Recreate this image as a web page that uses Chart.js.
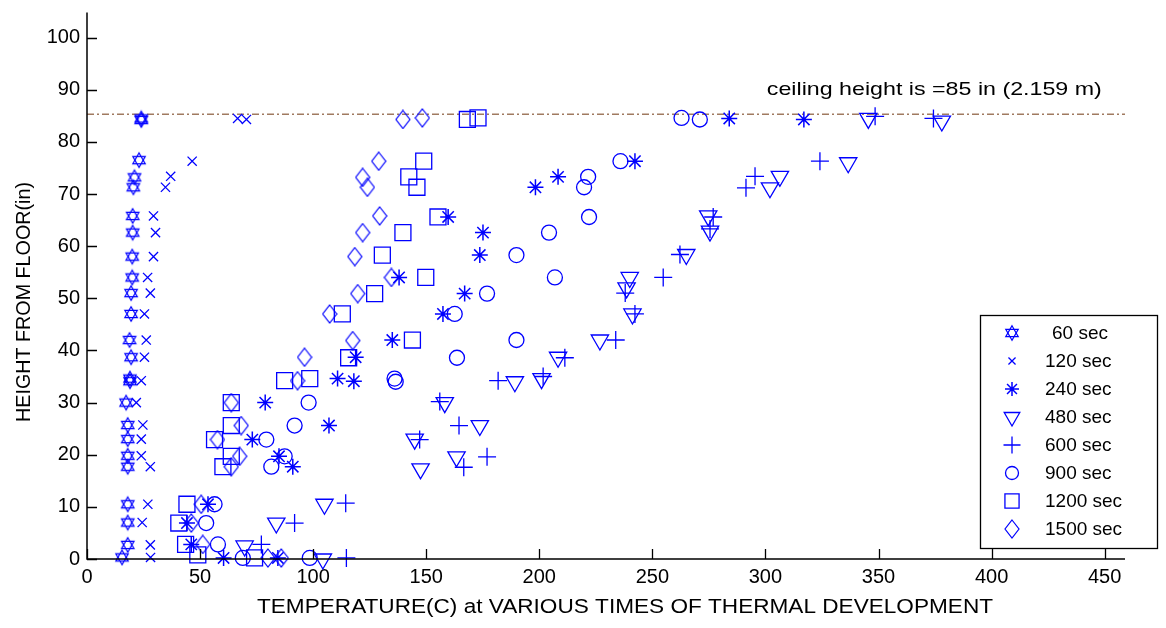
<!DOCTYPE html>
<html><head><meta charset="utf-8">
<script src="https://cdn.jsdelivr.net/npm/chart.js@4/dist/chart.umd.min.js"></script>
<style>html,body{margin:0;padding:0;background:#fff}</style>
</head><body>
<canvas id="c" width="1166" height="628"></canvas>
<script>
// ---- data ----
const seriesLabels = ['60 sec','120 sec','240 sec','480 sec','600 sec','900 sec','1200 sec','1500 sec'];
const xTickValues = [0,50,100,150,200,250,300,350,400,450];
const yTickValues = [0,10,20,30,40,50,60,70,80,90,100];
const ceilingHeight = 85.3;
const ceilingText = 'ceiling height is =85 in (2.159 m)';
const xTitle = 'TEMPERATURE(C) at VARIOUS TIMES OF THERMAL DEVELOPMENT';
const yTitle = 'HEIGHT FROM FLOOR(in)';

const s60 = [[24,84.5],[24,84.2],[23,76.5],[21,73.2],[20.5,71.3],[20.2,65.8],[20.2,62.6],[20,58],[20,54],[19.5,51],[19.5,47],[18.8,42],[19.5,38.7],[19,34.6],[19,34.1],[17.3,30],[18,25.7],[18,23],[18,19.8],[18,17.7],[18,10.5],[18,7],[18,2.7],[15.5,0.3]];
const s120 = [[66.6,84.5],[70.5,84.3],[46.5,76.3],[37,73.4],[34.7,71.3],[29.4,65.8],[30.3,62.6],[29.4,58],[26.8,54],[28,51],[25.4,47],[26.2,42],[25.4,38.7],[24,34.2],[21.8,30],[24.7,25.7],[24,23],[24,19.8],[28,17.7],[26.9,10.5],[24.4,7],[28,2.7],[28.1,0.3]];
const s240 = [[284,84.5],[317,84.3],[242.3,76.3],[208.3,73.3],[198.3,71.3],[159.7,65.6],[175.1,62.6],[173.7,58.3],[138,54],[167,50.9],[157.4,47],[135,42],[118.8,38.7],[110.8,34.6],[118,34.1],[78.8,30],[107,25.6],[73.1,22.9],[84.9,19.7],[91,17.7],[53.5,10.5],[44.2,6.9],[46.1,2.8],[60.4,0.2],[84.4,0.2]];
const s480 = [[345.5,84.5],[378,84],[336.6,76],[306.4,73.4],[302,71.2],[274.7,65.8],[275.5,62.9],[265,58.4],[240,54],[238.6,52],[241.2,47],[226.8,42],[208.3,38.7],[189.2,34],[201,34.6],[158.2,30],[173.7,25.6],[144.9,23],[163.4,19.6],[147.5,17.3],[105,10.5],[83.7,6.9],[69.7,2.5],[104.3,0]];
const s600 = [[348.5,84.9],[374.3,84.5],[324.1,76.3],[295.4,73.4],[291.4,71.2],[276.9,65.6],[275.5,63.3],[262.2,58.4],[254.8,54],[238,51],[242.3,47],[233.8,42],[211.3,38.6],[181.8,34.2],[201.7,35],[156,30.2],[164.5,25.6],[147.1,22.9],[176.9,19.6],[166.6,17.6],[114.4,10.7],[91.8,6.9],[77.1,2.8],[114.7,0.2]];
const s900 = [[262.9,84.6],[271,84.3],[235.9,76.3],[221.6,73.3],[219.8,71.3],[222,65.6],[204.3,62.6],[189.9,58.3],[206.9,54],[176.9,50.9],[162.6,47],[189.9,42],[163.6,38.6],[136,34.6],[136.5,34],[98,30],[91.8,25.6],[79.3,22.9],[87.4,19.7],[81.5,17.7],[56.4,10.5],[52.7,6.9],[57.9,2.8],[68.9,0.2],[98.5,0.2]];
const s1200 = [[168.2,84.3],[172.9,84.6],[148.9,76.3],[142.3,73.3],[145.9,71.3],[155.2,65.6],[139.7,62.6],[130.6,58.3],[149.8,54],[127.2,50.9],[112.9,47],[143.9,42],[115.7,38.6],[87.4,34.2],[98.5,34.6],[63.8,30],[63.8,25.6],[56.4,22.9],[63.8,19.7],[60.1,17.7],[44.2,10.5],[40.6,6.9],[43.6,2.8],[49,0.8],[74.1,0.2]];
const s1500 = [[139.7,84.3],[148.3,84.6],[129,76.3],[121.9,73.2],[124,71.3],[129.4,65.8],[121.9,62.6],[118.4,58],[134.6,54],[119.7,50.9],[107.3,47],[117.5,41.9],[96.2,38.7],[93.1,34.2],[63.8,30],[68.2,25.6],[57.7,22.9],[67.5,19.7],[63.8,17.7],[50.5,10.5],[46.1,6.9],[51.2,2.8],[80,0.2],[85.9,0.2]];
const allSeries = [s60,s120,s240,s480,s600,s900,s1200,s1500];

// ---- marker images ----
const BLUE = '#0000ff';
function makeHexagram(){
  const c = document.createElement('canvas'); c.width = 16; c.height = 18;
  const g = c.getContext('2d'); g.strokeStyle = BLUE; g.lineWidth = 1.2;
  const cx = 8, cy = 9, r = 7.2;
  for (const off of [-Math.PI/2, Math.PI/2]) {
    g.beginPath();
    for (let i = 0; i < 3; i++) {
      const a = off + i * 2 * Math.PI / 3;
      const px = cx + r * Math.cos(a), py = cy + r * Math.sin(a);
      if (i === 0) g.moveTo(px, py); else g.lineTo(px, py);
    }
    g.closePath(); g.stroke();
  }
  return c;
}
function makeDiamond(){
  const c = document.createElement('canvas'); c.width = 16; c.height = 20;
  const g = c.getContext('2d'); g.strokeStyle = BLUE; g.lineWidth = 1.2;
  g.beginPath(); g.moveTo(8,1); g.lineTo(15,10); g.lineTo(8,19); g.lineTo(1,10); g.closePath(); g.stroke();
  return c;
}
const hexImg = makeHexagram();
const diaImg = makeDiamond();

const styles = [
  {pointStyle: hexImg, pointRadius: 8, pointRotation: 0},
  {pointStyle: 'crossRot', pointRadius: 6.5, pointRotation: 0},
  {pointStyle: 'star', pointRadius: 8, pointRotation: 0, pointBorderWidth: 1.5},
  {pointStyle: 'triangle', pointRadius: 10, pointRotation: 180},
  {pointStyle: 'cross', pointRadius: 9, pointRotation: 0},
  {pointStyle: 'circle', pointRadius: 7.5, pointRotation: 0},
  {pointStyle: 'rect', pointRadius: 11.3, pointRotation: 0},
  {pointStyle: diaImg, pointRadius: 9, pointRotation: 0}
];

const datasets = allSeries.map((s, i) => Object.assign({
  label: seriesLabels[i],
  data: s.map(p => ({x: p[0], y: p[1]})),
  showLine: false,
  borderColor: BLUE,
  backgroundColor: 'rgba(0,0,0,0)',
  pointBorderColor: BLUE,
  pointBackgroundColor: 'rgba(0,0,0,0)',
  pointBorderWidth: 1.3,
  clip: false
}, styles[i]));

const X_MAX = 459, Y_MAX = 104.8;
datasets.push({
  label: 'ceiling',
  data: [{x: 0, y: ceilingHeight}, {x: X_MAX, y: ceilingHeight}],
  showLine: true,
  borderColor: '#a07a60',
  borderWidth: 1.5,
  borderDash: [7, 3, 2, 3],
  pointRadius: 0,
  clip: false
});

const FONT = "'Liberation Sans', Arial, sans-serif";
const noPad = () => ({left: 0, top: 0, right: 0, bottom: 0});

const decor = {
  id: 'decor',
  afterDatasetsDraw(chart) {
    const ctx = chart.ctx, a = chart.chartArea;
    const xs = chart.scales.x, ys = chart.scales.y;
    ctx.save();
    // axes
    ctx.strokeStyle = '#000'; ctx.lineWidth = 1.5;
    ctx.beginPath();
    ctx.moveTo(a.left, a.top); ctx.lineTo(a.left, a.bottom); ctx.lineTo(a.right, a.bottom);
    ctx.stroke();
    // inward ticks
    ctx.lineWidth = 1.3;
    ctx.beginPath();
    xTickValues.forEach(v => { const px = Math.round(xs.getPixelForValue(v)) + 0.5; ctx.moveTo(px, a.bottom); ctx.lineTo(px, a.bottom - 10); });
    yTickValues.forEach(v => { const py = Math.round(ys.getPixelForValue(v)) + 0.5; ctx.moveTo(a.left, py); ctx.lineTo(a.left + 10, py); });
    ctx.stroke();

    // ceiling text
    ctx.fillStyle = '#000';
    ctx.font = '19px ' + FONT;
    ctx.textBaseline = 'alphabetic'; ctx.textAlign = 'left';
    const tx = xs.getPixelForValue(300.6), ty = ys.getPixelForValue(ceilingHeight) - 19;
    const tw = ctx.measureText(ceilingText).width, target = 335;
    ctx.save(); ctx.translate(tx, ty); ctx.scale(target / tw, 1); ctx.fillText(ceilingText, 0, 0); ctx.restore();

    // axis titles
    ctx.font = '20px ' + FONT;
    ctx.textAlign = 'center'; ctx.textBaseline = 'middle';
    let w = ctx.measureText(xTitle).width;
    ctx.save(); ctx.translate(625, 607); ctx.scale(736 / w, 1); ctx.fillText(xTitle, 0, 0); ctx.restore();
    w = ctx.measureText(yTitle).width;
    ctx.save(); ctx.translate(24, 302); ctx.rotate(-Math.PI / 2); ctx.scale(240 / w, 1); ctx.fillText(yTitle, 0, 0); ctx.restore();

    // legend box
    const bx = 980, by = 315, bw = 177, bh = 233;
    ctx.fillStyle = '#fff'; ctx.fillRect(bx, by, bw, bh);
    ctx.strokeStyle = '#000'; ctx.lineWidth = 1.3; ctx.strokeRect(bx + 0.5, by + 0.5, bw, bh);
    ctx.font = '19px ' + FONT; ctx.textAlign = 'left'; ctx.textBaseline = 'middle'; ctx.fillStyle = '#000';
    for (let i = 0; i < seriesLabels.length; i++) {
      const ly = by + 18 + i * 28;
      const st = styles[i];
      ctx.strokeStyle = BLUE; ctx.fillStyle = 'rgba(0,0,0,0)';
      ctx.lineWidth = st.pointBorderWidth || 1.3;
      let r = st.pointRadius;
      if (i === 1) r = 5;
      if (i === 2) r = 7;
      if (i === 3) r = 9;
      if (i === 4) r = 8.5;
      if (i === 5) r = 6.5;
      if (i === 6) r = 10;
      Chart.helpers.drawPoint(ctx, {pointStyle: st.pointStyle, radius: r, rotation: st.pointRotation, borderWidth: ctx.lineWidth}, 1012, ly);
      ctx.fillStyle = '#000';
      ctx.fillText(seriesLabels[i], i === 0 ? 1052 : 1045, ly + 1);
    }
    ctx.restore();
  }
};

new Chart(document.getElementById('c'), {
  type: 'scatter',
  data: { datasets },
  options: {
    responsive: false,
    animation: false,
    layout: { padding: { left: 0, right: 41, top: 8, bottom: 0 } },
    plugins: { legend: { display: false }, tooltip: { enabled: false } },
    scales: {
      x: {
        type: 'linear', min: 0, max: X_MAX,
        afterFit(s) { s.height = 69; s.paddingLeft = 0; s.paddingRight = 0; s.getPadding = noPad; },
        afterBuildTicks(s) { s.ticks = xTickValues.map(v => ({value: v})); },
        grid: { display: false, drawTicks: false },
        border: { display: false },
        ticks: { color: '#000', font: { size: 20, family: FONT }, padding: 6, maxRotation: 0, autoSkip: false }
      },
      y: {
        type: 'linear', min: 0, max: Y_MAX,
        afterFit(s) { s.width = 87; s.paddingTop = 0; s.paddingBottom = 0; s.getPadding = noPad; },
        afterBuildTicks(s) { s.ticks = yTickValues.map(v => ({value: v})); },
        grid: { display: false, drawTicks: false },
        border: { display: false },
        ticks: { color: '#000', font: { size: 20, family: FONT }, padding: 7, autoSkip: false }
      }
    }
  },
  plugins: [decor]
});
</script>
</body></html>
